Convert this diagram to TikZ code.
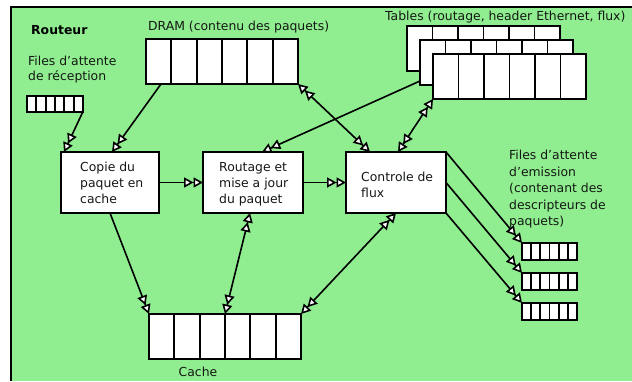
\documentclass[tikz,border=0pt]{standalone}
\usepackage{fontspec}
\setmainfont{DejaVu Sans}
\usetikzlibrary{arrows.meta,calc}
\definecolor{routerbg}{HTML}{90EE90}
\definecolor{txtcol}{HTML}{141914}
\tikzset{
  cellbox/.style={draw=black, fill=white, line width=2pt, inner sep=0pt, outer sep=0pt},
  procbox/.style={draw=black, fill=white, line width=2pt, inner sep=0pt, outer sep=0pt},
  cellline/.style={draw=black, line width=1.9pt},
  txt/.style={font=\fontsize{12.4}{16}\selectfont, text=txtcol, inner sep=0pt, align=left},
  conn/.style={draw=black, line width=1.6pt},
  fwd/.style={conn, -{Triangle[fill=white,length=9.5pt,width=10pt]Triangle[fill=white,length=9.5pt,width=10pt]}},
  both/.style={conn, {Triangle[fill=white,length=9.5pt,width=10pt]Triangle[fill=white,length=9.5pt,width=10pt]}-{Triangle[fill=white,length=9.5pt,width=10pt]Triangle[fill=white,length=9.5pt,width=10pt]}},
}
\newcommand\mycells[1]{%
  \foreach \i in {1,...,5}{%
    \draw[cellline] ($(#1.north west)!\i/6!(#1.north east)$) -- ($(#1.south west)!\i/6!(#1.south east)$);%
  }%
}
\begin{document}
\begin{tikzpicture}[x=1pt,y=-1pt]
\useasboundingbox (0,0) rectangle (632,381);
\fill[routerbg] (11,7) rectangle (632,381);
\draw[line width=2pt] (11,381) -- (11,7) -- (632,7);

% labels
\node[txt, anchor=north west, font=\fontsize{12.4}{16}\selectfont\bfseries, text=black] (routeur) at (31,25) {Routeur};
\node[txt, anchor=north west, font=\fontsize{12.4}{15}\selectfont] (rqlabel) at (28,56) {Files d'attente\\de réception};
\node[txt, anchor=north west] (dramlabel) at (148,21) {DRAM (contenu des paquets)};
\node[txt, anchor=north west] (tablabel) at (385,11) {Tables (routage, header Ethernet, flux)};
\node[txt, anchor=north west, font=\fontsize{12.4}{16.5}\selectfont] (eqlabel) at (509,150) {Files d'attente\\d'emission\\(contenant des\\descripteurs de\\paquets)};
\node[txt, anchor=north] (cachelabel) at (198,367) {Cache};

% memory rows
\node[cellbox, minimum width=56pt, minimum height=16pt] (rq) at (55,103.5) {};
\mycells{rq}
\node[cellbox, minimum width=152pt, minimum height=45pt] (dram) at (222,61.5) {};
\mycells{dram}
\node[cellbox, minimum width=153pt, minimum height=45pt] (tback) at (483.5,48.5) {};
\mycells{tback}
\node[cellbox, minimum width=153pt, minimum height=45pt] (tmid) at (496.5,62.5) {};
\mycells{tmid}
\node[cellbox, minimum width=153pt, minimum height=45pt] (tfront) at (509.5,76.5) {};
\mycells{tfront}
\node[cellbox, minimum width=152pt, minimum height=45pt] (cache) at (225,336.5) {};
\mycells{cache}
\node[cellbox, minimum width=55pt, minimum height=17pt] (eq1) at (549.5,251.5) {};
\mycells{eq1}
\node[cellbox, minimum width=55pt, minimum height=17pt] (eq2) at (549.5,281.5) {};
\mycells{eq2}
\node[cellbox, minimum width=55pt, minimum height=17pt] (eq3) at (549.5,311.5) {};
\mycells{eq3}

% process boxes
\node[procbox, minimum width=98pt, minimum height=61pt] (copie) at (110,182.5) {};
\node[txt, anchor=north west] (copietxt) at (80,162) {Copie du\\paquet en\\cache};
\node[procbox, minimum width=100pt, minimum height=61pt] (routage) at (253,182.5) {};
\node[txt, anchor=north west] (routagetxt) at (219,162) {Routage et\\mise a jour\\du paquet};
\node[procbox, minimum width=100pt, minimum height=61pt] (controle) at (396,182.5) {};
\node[txt, anchor=north west] (controletxt) at (361,172) {Controle de\\flux};

% connectors
\draw[fwd] (rq.south east) -- ([xshift=3pt]copie.north west);
\draw[fwd] ([xshift=15pt]dram.south west) -- ([xshift=2pt]copie.north);
\draw[fwd] (copie.east) -- (routage.west);
\draw[fwd] (routage.east) -- (controle.west);
\draw[both] (dram.south east) -- ([xshift=-26pt]controle.north);
\draw[fwd] ([yshift=4pt]tmid.south west) -- ([xshift=9pt]routage.north);
\draw[both] (tfront.south west) -- ([xshift=2pt]controle.north);
\draw[fwd] (copie.south) -- (cache.north west);
\draw[both] ([xshift=-3pt]routage.south) -- (cache.north);
\draw[both] (controle.south) -- (cache.north east);
\draw[fwd] (controle.north east) -- (eq1.north west);
\draw[fwd] (controle.east) -- (eq2.north west);
\draw[fwd] (controle.south east) -- (eq3.north west);
\end{tikzpicture}
\end{document}
